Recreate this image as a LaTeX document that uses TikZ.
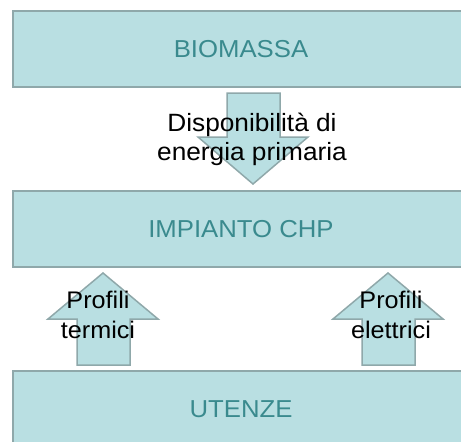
\documentclass[tikz,border=0pt]{standalone}
\usepackage{fontspec}
\setmainfont[FakeStretch=1.05]{Liberation Sans}
\definecolor{riempimento}{HTML}{B9DFE2}
\definecolor{bordo}{HTML}{8FA8AA}
\definecolor{testoblu}{HTML}{3A8A8E}
\tikzset{
  blocco/.style={rectangle,draw=bordo,fill=riempimento,line width=1.5pt,
    minimum width=456pt,minimum height=76pt,inner sep=0pt,text=testoblu,
    font=\fontsize{24.5}{28}\selectfont},
  freccia/.style={draw=bordo,fill=riempimento,line width=1.5pt},
  etichetta/.style={align=center,inner sep=0pt,font=\fontsize{24}{30}\selectfont}
}
\begin{document}
\begin{tikzpicture}[x=1pt,y=-1pt]
                \useasboundingbox (0,0) rectangle (461,442);
                \clip (0,0) rectangle (461,442);
                % blocchi
                \node[blocco] (biomassa) at (241,49) {BIOMASSA};
                \node[blocco] (impianto) at (241,229) {IMPIANTO CHP};
                \node[blocco] (utenze) at (241,409) {UTENZE};

                % frecce
                \draw[freccia] (227,93) -- (280,93) -- (280,137) -- (308,137) -- (253,184) -- (198,137) -- (227,137) -- cycle;
                \draw[freccia] (77,365) -- (130,365) -- (130,319) -- (158,319) -- (103,273) -- (48,319) -- (77,319) -- cycle;
                \draw[freccia] (362,365) -- (415,365) -- (415,319) -- (443,319) -- (388,273) -- (333,319) -- (362,319) -- cycle;

                % etichette
                \node[etichetta,font=\fontsize{25}{29}\selectfont] (energia) at (252,139) {Disponibilità di\\energia primaria};
                \node[etichetta] (termici) at (98,315) {Profili\\termici};
                \node[etichetta] (elettrici) at (391,315) {Profili\\elettrici};
\end{tikzpicture}
\end{document}
